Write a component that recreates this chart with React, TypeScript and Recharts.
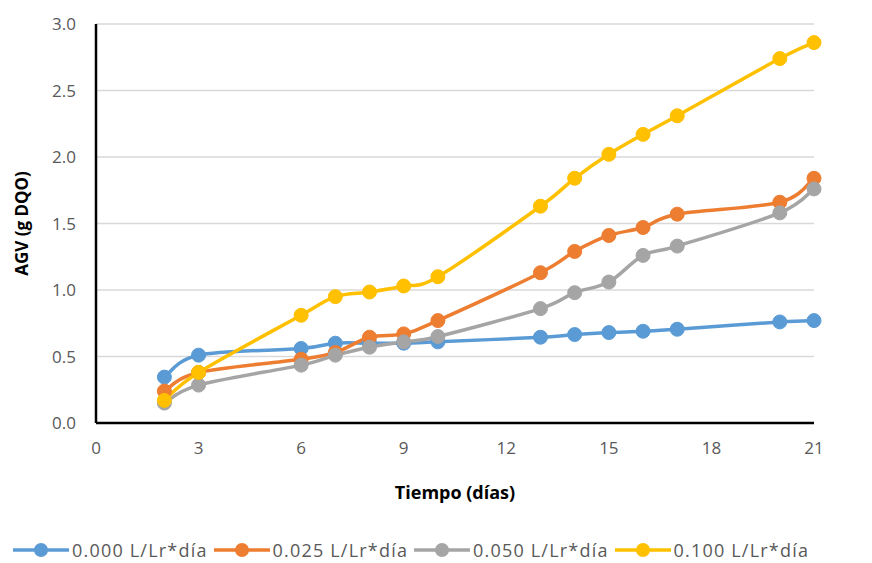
import { CartesianGrid, Label, Legend, Line, LineChart, XAxis, YAxis } from 'recharts';

const dias = [2, 3, 6, 7, 8, 9, 10, 13, 14, 15, 16, 17, 20, 21];
const agv000 = [0.345, 0.51, 0.56, 0.6, 0.6, 0.6, 0.61, 0.645, 0.665, 0.68, 0.69, 0.705, 0.76, 0.77];
const agv025 = [0.24, 0.38, 0.48, 0.53, 0.645, 0.67, 0.77, 1.13, 1.29, 1.41, 1.47, 1.57, 1.66, 1.84];
const agv050 = [0.15, 0.285, 0.435, 0.51, 0.57, 0.61, 0.65, 0.86, 0.98, 1.06, 1.26, 1.33, 1.58, 1.76];
const agv100 = [0.17, 0.38, 0.81, 0.95, 0.985, 1.03, 1.1, 1.63, 1.84, 2.02, 2.17, 2.31, 2.74, 2.86];

const xTicks = [0, 3, 6, 9, 12, 15, 18, 21];
const yTicks = [0, 0.5, 1, 1.5, 2, 2.5, 3];

const series = [
  { key: 's000', name: '0.000 L/Lr*día', color: '#5B9BD5' },
  { key: 's025', name: '0.025 L/Lr*día', color: '#ED7D31' },
  { key: 's050', name: '0.050 L/Lr*día', color: '#A5A5A5' },
  { key: 's100', name: '0.100 L/Lr*día', color: '#FFC000' },
];

const data = dias.map((d, i) => ({
  dia: d,
  s000: agv000[i],
  s025: agv025[i],
  s050: agv050[i],
  s100: agv100[i],
}));

const FONT = '"Open Sans", "Liberation Sans", sans-serif';
const tick = { fill: '#595959', fontSize: 17, fontFamily: FONT };

// Excel-style smoothed line (Catmull-Rom through the points)
function excelSmooth(context: any) {
  let pts: [number, number][] = [];
  return {
    areaStart() {},
    areaEnd() {},
    lineStart() {
      pts = [];
    },
    point(x: number, y: number) {
      pts.push([+x, +y]);
    },
    lineEnd() {
      if (!pts.length) return;
      context.moveTo(pts[0][0], pts[0][1]);
      for (let i = 0; i < pts.length - 1; i++) {
        const p0 = pts[Math.max(i - 1, 0)];
        const p1 = pts[i];
        const p2 = pts[i + 1];
        const p3 = pts[Math.min(i + 2, pts.length - 1)];
        context.bezierCurveTo(
          p1[0] + (p2[0] - p0[0]) / 6,
          p1[1] + (p2[1] - p0[1]) / 6,
          p2[0] - (p3[0] - p1[0]) / 6,
          p2[1] - (p3[1] - p1[1]) / 6,
          p2[0],
          p2[1]
        );
      }
    },
  };
}

function LegendContent() {
  return (
    <div
      style={{
        height: 26,
        display: 'flex',
        alignItems: 'center',
        paddingLeft: 12,
        fontFamily: FONT,
        fontSize: 18,
        letterSpacing: 1.2,
        color: '#595959',
      }}
    >
      {series.map((s) => (
        <div key={s.key} style={{ display: 'flex', alignItems: 'center', width: 220, whiteSpace: 'nowrap' }}>
          <svg width={58} height={16}>
            <line x1={1} y1={8} x2={57} y2={8} stroke={s.color} strokeWidth={3.5} />
            <circle cx={29} cy={8} r={7} fill={s.color} />
          </svg>
          <span style={{ marginLeft: 2 }}>{s.name}</span>
        </div>
      ))}
    </div>
  );
}

export default function App() {
  return (
    <div style={{ position: 'absolute', left: 0, top: 0, background: '#fff' }}>
      <LineChart
        width={872}
        height={563}
        data={data}
        margin={{ top: 24, right: 58, left: 0, bottom: 0 }}
      >
        <CartesianGrid vertical={false} stroke="#D9D9D9" strokeWidth={1.5} />
        <XAxis
          dataKey="dia"
          type="number"
          domain={[0, 21]}
          ticks={xTicks}
          tick={tick}
          tickLine={false}
          tickMargin={13}
          axisLine={{ stroke: '#000', strokeWidth: 2.5 }}
          height={114}
        >
          <Label
            value="Tiempo (días)"
            position="insideBottom"
            offset={38}
            style={{ fontFamily: FONT, fontSize: 18, fontWeight: 700, fill: '#000' }}
          />
        </XAxis>
        <YAxis
          type="number"
          domain={[0, 3]}
          ticks={yTicks}
          tick={tick}
          tickFormatter={(v: number) => v.toFixed(1)}
          tickLine={false}
          tickMargin={14}
          axisLine={{ stroke: '#000', strokeWidth: 2.5 }}
          width={96}
        >
          <Label
            value="AGV (g DQO)"
            angle={-90}
            position="insideLeft"
            offset={22}
            style={{ textAnchor: 'middle', fontFamily: FONT, fontSize: 17, fontWeight: 700, fill: '#000' }}
          />
        </YAxis>
        <Legend verticalAlign="bottom" content={<LegendContent />} />
        {series.map((s) => (
          <Line
            key={s.key}
            type={excelSmooth as any}
            dataKey={s.key}
            name={s.name}
            stroke={s.color}
            strokeWidth={3.5}
            dot={{ r: 7, fill: s.color, stroke: s.color, strokeWidth: 1 }}
            activeDot={false}
            isAnimationActive={false}
          />
        ))}
      </LineChart>
    </div>
  );
}
